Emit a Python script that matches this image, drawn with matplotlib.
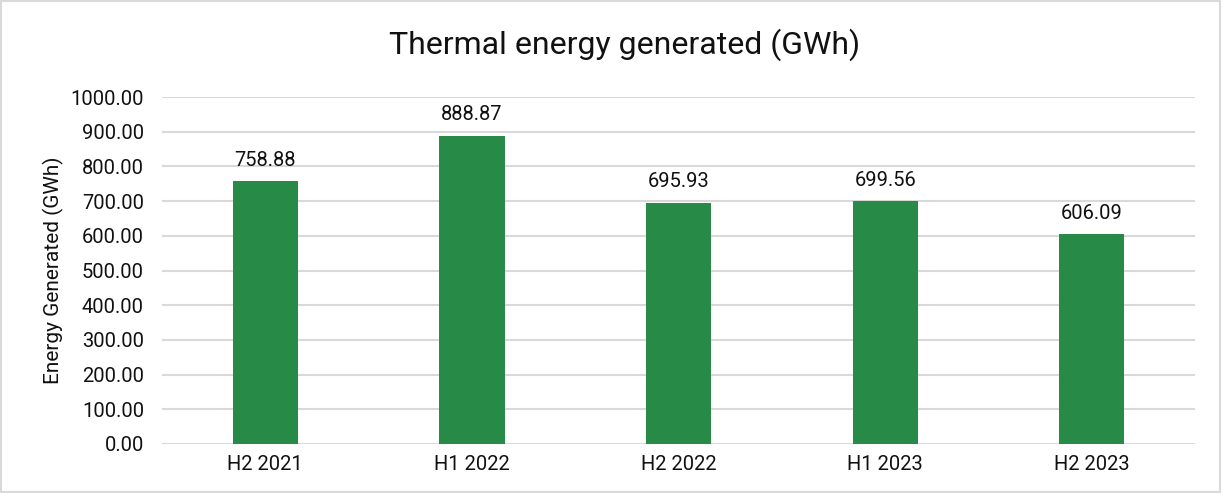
import numpy as np
import matplotlib
matplotlib.use('Agg')
import matplotlib.pyplot as plt
from matplotlib.patches import Rectangle

# data
periods = ['H2 2021', 'H1 2022', 'H2 2022', 'H1 2023', 'H2 2023']
energy = [758.88, 888.87, 695.93, 699.56, 606.09]
yticks = np.arange(0, 1001, 100)

plt.rcParams['font.family'] = ['Roboto', 'DejaVu Sans']

fig = plt.figure(figsize=(12.22, 4.93), dpi=100)
ax = fig.add_axes([0.1326, 0.0994, 0.8454, 0.7038])

x = np.arange(len(periods))
bars = ax.bar(x, energy, width=0.315, color='#288A47', zorder=3)

for xi, v in zip(x, energy):
    ax.text(xi, v + 32, f'{v:.2f}', ha='center', va='bottom', fontsize=14.5, color='#111111')

ax.set_xlim(-0.5, len(periods) - 0.5)
ax.set_ylim(0, 1000)
ax.set_yticks(yticks)
ax.set_yticklabels([f'{t:.2f}' for t in yticks], fontsize=14.5, color='#111111')
ax.set_xticks(x)
ax.set_xticklabels(periods, fontsize=14.5, color='#111111')
ax.tick_params(axis='y', length=0, pad=13)
ax.tick_params(axis='x', length=0, pad=8)
ax.grid(axis='y', color='#D9D9D9', linewidth=1.5, zorder=0)
for s in ax.spines.values():
    s.set_visible(False)

ax.set_ylabel('Energy Generated (GWh)', fontsize=15, color='#111111', labelpad=5)
fig.text(0.511, 0.91, 'Thermal energy generated (GWh)', ha='center', va='center', fontsize=23, color='#111111')

# light frame around the figure
fig.patches.append(Rectangle((0.001, 0.002), 0.997, 0.995, transform=fig.transFigure,
                             fill=False, edgecolor='#D9D9D9', linewidth=1.5))

fig.savefig('out.png', dpi=100)
